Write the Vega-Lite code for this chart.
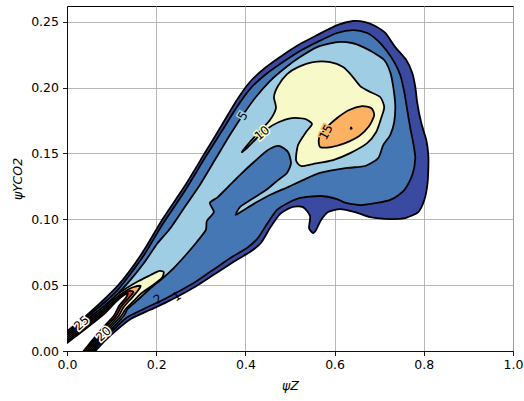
{
"$schema": "https://vega.github.io/schema/vega-lite/v6.json",
"width": 446, "height": 345,
"autosize": {"type": "none"},
"padding": {"left": 67, "top": 6, "right": 11, "bottom": 50},
"background": "white",
"config": {
 "font": "DejaVu Sans",
 "view": {"stroke": "#000000", "strokeWidth": 1},
 "axis": {"labelFont": "DejaVu Sans", "labelFontSize": 12.5, "labelColor": "#000", "tickColor": "#000", "tickSize": 4.5, "tickWidth": 0.9, "domainColor": "#000", "domainWidth": 0.9, "gridColor": "#b0b0b0", "gridWidth": 0.9, "titleFont": "DejaVu Sans", "titleFontWeight": "normal", "titleFontStyle": "italic", "titleFontSize": 12.5, "titleColor": "#000", "zindex": 1, "labelFlush": false, "labelBound": false},
 "line": {"stroke": "#000", "strokeWidth": 1.8, "interpolate": "cardinal-closed", "tension": 0.3, "strokeJoin": "round"}
},
"datasets": {
 "L1": [{"i":1,"x":0,"y":0.0152},{"i":2,"x":0.0281,"y":0.0224},{"i":3,"x":0.0551,"y":0.0304},{"i":4,"x":0.0843,"y":0.0395},{"i":5,"x":0.1135,"y":0.0494},{"i":6,"x":0.1404,"y":0.0607},{"i":7,"x":0.1742,"y":0.0774},{"i":8,"x":0.2146,"y":0.1002},{"i":9,"x":0.264,"y":0.1253},{"i":10,"x":0.309,"y":0.1503},{"i":11,"x":0.3472,"y":0.1716},{"i":12,"x":0.3809,"y":0.1906},{"i":13,"x":0.4101,"y":0.2043},{"i":14,"x":0.4438,"y":0.2149},{"i":15,"x":0.4843,"y":0.2248},{"i":16,"x":0.5225,"y":0.2331},{"i":17,"x":0.5607,"y":0.2399},{"i":18,"x":0.6056,"y":0.2475},{"i":19,"x":0.6416,"y":0.2506},{"i":20,"x":0.6685,"y":0.2498},{"i":21,"x":0.691,"y":0.2468},{"i":22,"x":0.7135,"y":0.2415},{"i":23,"x":0.736,"y":0.2308},{"i":24,"x":0.7607,"y":0.221},{"i":25,"x":0.7742,"y":0.2111},{"i":26,"x":0.7809,"y":0.2005},{"i":27,"x":0.7854,"y":0.1883},{"i":28,"x":0.7944,"y":0.1731},{"i":29,"x":0.8056,"y":0.1602},{"i":30,"x":0.8101,"y":0.1488},{"i":31,"x":0.8101,"y":0.1374},{"i":32,"x":0.8079,"y":0.126},{"i":33,"x":0.8011,"y":0.1147},{"i":34,"x":0.7876,"y":0.1055},{"i":35,"x":0.7584,"y":0.101},{"i":36,"x":0.7247,"y":0.1002},{"i":37,"x":0.6798,"y":0.1017},{"i":38,"x":0.6461,"y":0.1055},{"i":39,"x":0.6124,"y":0.1078},{"i":40,"x":0.5854,"y":0.1055},{"i":41,"x":0.5697,"y":0.0995},{"i":42,"x":0.5584,"y":0.0919},{"i":43,"x":0.5517,"y":0.0896},{"i":44,"x":0.5427,"y":0.0934},{"i":45,"x":0.5449,"y":0.1025},{"i":46,"x":0.5292,"y":0.1093},{"i":47,"x":0.5045,"y":0.1093},{"i":48,"x":0.4775,"y":0.104},{"i":49,"x":0.4551,"y":0.0934},{"i":50,"x":0.4348,"y":0.082},{"i":51,"x":0.4101,"y":0.0752},{"i":52,"x":0.3764,"y":0.0683},{"i":53,"x":0.3315,"y":0.0585},{"i":54,"x":0.2865,"y":0.0486},{"i":55,"x":0.2461,"y":0.041},{"i":56,"x":0.2191,"y":0.0364},{"i":57,"x":0.1854,"y":0.0311},{"i":58,"x":0.1427,"y":0.0243},{"i":59,"x":0.1112,"y":0.0159},{"i":60,"x":0.0843,"y":0.0076},{"i":61,"x":0.064,"y":0},{"i":62,"x":0.0373,"y":-0.01},{"i":63,"x":-0.03,"y":-0.02},{"i":64,"x":-0.02,"y":0.0101}],
 "L2": [{"i":1,"x":0,"y":0.0137},{"i":2,"x":0.0281,"y":0.0209},{"i":3,"x":0.0551,"y":0.0285},{"i":4,"x":0.0843,"y":0.0368},{"i":5,"x":0.1135,"y":0.0463},{"i":6,"x":0.1404,"y":0.0577},{"i":7,"x":0.1742,"y":0.0737},{"i":8,"x":0.2146,"y":0.0964},{"i":9,"x":0.264,"y":0.1215},{"i":10,"x":0.309,"y":0.1465},{"i":11,"x":0.3472,"y":0.167},{"i":12,"x":0.3809,"y":0.1853},{"i":13,"x":0.4101,"y":0.1989},{"i":14,"x":0.4438,"y":0.2096},{"i":15,"x":0.4843,"y":0.2194},{"i":16,"x":0.5225,"y":0.2278},{"i":17,"x":0.5607,"y":0.2346},{"i":18,"x":0.6056,"y":0.2415},{"i":19,"x":0.6416,"y":0.2437},{"i":20,"x":0.673,"y":0.2415},{"i":21,"x":0.6955,"y":0.2361},{"i":22,"x":0.7157,"y":0.2285},{"i":23,"x":0.7337,"y":0.2194},{"i":24,"x":0.7472,"y":0.2096},{"i":25,"x":0.7562,"y":0.1967},{"i":26,"x":0.7629,"y":0.183},{"i":27,"x":0.7697,"y":0.1693},{"i":28,"x":0.7764,"y":0.1579},{"i":29,"x":0.7809,"y":0.1465},{"i":30,"x":0.7742,"y":0.1336},{"i":31,"x":0.7562,"y":0.1222},{"i":32,"x":0.7247,"y":0.1147},{"i":33,"x":0.664,"y":0.1109},{"i":34,"x":0.6258,"y":0.1124},{"i":35,"x":0.6056,"y":0.1154},{"i":36,"x":0.5674,"y":0.1177},{"i":37,"x":0.5225,"y":0.1162},{"i":38,"x":0.4955,"y":0.1124},{"i":39,"x":0.4708,"y":0.1071},{"i":40,"x":0.4483,"y":0.0964},{"i":41,"x":0.4281,"y":0.0858},{"i":42,"x":0.4034,"y":0.0782},{"i":43,"x":0.3697,"y":0.0714},{"i":44,"x":0.327,"y":0.0615},{"i":45,"x":0.2843,"y":0.0516},{"i":46,"x":0.2438,"y":0.044},{"i":47,"x":0.2146,"y":0.0387},{"i":48,"x":0.1809,"y":0.0334},{"i":49,"x":0.136,"y":0.0258},{"i":50,"x":0.1067,"y":0.0171},{"i":51,"x":0.0798,"y":0.0084},{"i":52,"x":0.0596,"y":0},{"i":53,"x":0.0356,"y":-0.01},{"i":54,"x":-0.03,"y":-0.02},{"i":55,"x":-0.02,"y":0.0086}],
 "L3": [{"i":1,"x":0,"y":0.0121},{"i":2,"x":0.0281,"y":0.0194},{"i":3,"x":0.0551,"y":0.0266},{"i":4,"x":0.0843,"y":0.0345},{"i":5,"x":0.1135,"y":0.0433},{"i":6,"x":0.1404,"y":0.0532},{"i":7,"x":0.1742,"y":0.0676},{"i":8,"x":0.2034,"y":0.082},{"i":9,"x":0.2303,"y":0.0926},{"i":10,"x":0.2596,"y":0.1071},{"i":11,"x":0.2978,"y":0.126},{"i":12,"x":0.3315,"y":0.145},{"i":13,"x":0.3652,"y":0.164},{"i":14,"x":0.3944,"y":0.1792},{"i":15,"x":0.4236,"y":0.1929},{"i":16,"x":0.4551,"y":0.205},{"i":17,"x":0.4888,"y":0.2149},{"i":18,"x":0.5225,"y":0.2232},{"i":19,"x":0.5607,"y":0.2308},{"i":20,"x":0.6056,"y":0.2346},{"i":21,"x":0.6393,"y":0.2339},{"i":22,"x":0.664,"y":0.2308},{"i":23,"x":0.6888,"y":0.2263},{"i":24,"x":0.7112,"y":0.221},{"i":25,"x":0.7247,"y":0.2118},{"i":26,"x":0.7315,"y":0.2005},{"i":27,"x":0.736,"y":0.1868},{"i":28,"x":0.7337,"y":0.1739},{"i":29,"x":0.7247,"y":0.164},{"i":30,"x":0.709,"y":0.1564},{"i":31,"x":0.6978,"y":0.1465},{"i":32,"x":0.6685,"y":0.1405},{"i":33,"x":0.6281,"y":0.139},{"i":34,"x":0.5674,"y":0.1352},{"i":35,"x":0.5292,"y":0.1298},{"i":36,"x":0.4955,"y":0.1245},{"i":37,"x":0.4596,"y":0.1192},{"i":38,"x":0.4258,"y":0.1131},{"i":39,"x":0.3966,"y":0.1071},{"i":40,"x":0.3787,"y":0.1033},{"i":41,"x":0.3876,"y":0.1093},{"i":42,"x":0.4146,"y":0.1154},{"i":43,"x":0.4461,"y":0.1222},{"i":44,"x":0.473,"y":0.1298},{"i":45,"x":0.4933,"y":0.1352},{"i":46,"x":0.5022,"y":0.1427},{"i":47,"x":0.4955,"y":0.1511},{"i":48,"x":0.4753,"y":0.1557},{"i":49,"x":0.4506,"y":0.1526},{"i":50,"x":0.4191,"y":0.1435},{"i":51,"x":0.3876,"y":0.1336},{"i":52,"x":0.3607,"y":0.1245},{"i":53,"x":0.3382,"y":0.1169},{"i":54,"x":0.3202,"y":0.1124},{"i":55,"x":0.3292,"y":0.1055},{"i":56,"x":0.3135,"y":0.0987},{"i":57,"x":0.3112,"y":0.0919},{"i":58,"x":0.291,"y":0.0828},{"i":59,"x":0.2663,"y":0.0729},{"i":60,"x":0.2393,"y":0.063},{"i":61,"x":0.2124,"y":0.0547},{"i":62,"x":0.1854,"y":0.0471},{"i":63,"x":0.1584,"y":0.0387},{"i":64,"x":0.136,"y":0.0319},{"i":65,"x":0.127,"y":0.0266},{"i":66,"x":0.1022,"y":0.0175},{"i":67,"x":0.0753,"y":0.0084},{"i":68,"x":0.0551,"y":0},{"i":69,"x":0.0311,"y":-0.01},{"i":70,"x":-0.03,"y":-0.02},{"i":71,"x":-0.02,"y":0.0069}],
 "L4a": [{"i":1,"x":0.3921,"y":0.1511},{"i":2,"x":0.4101,"y":0.1587},{"i":3,"x":0.4326,"y":0.167},{"i":4,"x":0.4551,"y":0.1754},{"i":5,"x":0.4685,"y":0.1845},{"i":6,"x":0.464,"y":0.1929},{"i":7,"x":0.473,"y":0.2012},{"i":8,"x":0.4933,"y":0.2103},{"i":9,"x":0.518,"y":0.2156},{"i":10,"x":0.5517,"y":0.2194},{"i":11,"x":0.5899,"y":0.2194},{"i":12,"x":0.6191,"y":0.2156},{"i":13,"x":0.6393,"y":0.2088},{"i":14,"x":0.6573,"y":0.2012},{"i":15,"x":0.6798,"y":0.1967},{"i":16,"x":0.7022,"y":0.1929},{"i":17,"x":0.7112,"y":0.1853},{"i":18,"x":0.7045,"y":0.1769},{"i":19,"x":0.6933,"y":0.1663},{"i":20,"x":0.673,"y":0.1579},{"i":21,"x":0.6348,"y":0.1503},{"i":22,"x":0.5966,"y":0.145},{"i":23,"x":0.5517,"y":0.142},{"i":24,"x":0.5247,"y":0.1405},{"i":25,"x":0.5135,"y":0.145},{"i":26,"x":0.518,"y":0.1564},{"i":27,"x":0.536,"y":0.1663},{"i":28,"x":0.5494,"y":0.1724},{"i":29,"x":0.5337,"y":0.1762},{"i":30,"x":0.5045,"y":0.1769},{"i":31,"x":0.4753,"y":0.1739},{"i":32,"x":0.4483,"y":0.1686},{"i":33,"x":0.4236,"y":0.161},{"i":34,"x":0.4034,"y":0.1541}],
 "L4b": [{"i":1,"x":0,"y":0.0106},{"i":2,"x":0.0281,"y":0.0178},{"i":3,"x":0.0551,"y":0.0251},{"i":4,"x":0.0843,"y":0.033},{"i":5,"x":0.109,"y":0.0418},{"i":6,"x":0.1337,"y":0.0478},{"i":7,"x":0.1607,"y":0.0532},{"i":8,"x":0.1876,"y":0.0577},{"i":9,"x":0.2056,"y":0.0607},{"i":10,"x":0.2169,"y":0.06},{"i":11,"x":0.2124,"y":0.0554},{"i":12,"x":0.1899,"y":0.0494},{"i":13,"x":0.1674,"y":0.044},{"i":14,"x":0.1494,"y":0.038},{"i":15,"x":0.1315,"y":0.0319},{"i":16,"x":0.1213,"y":0.0266},{"i":17,"x":0.0966,"y":0.0175},{"i":18,"x":0.0708,"y":0.0084},{"i":19,"x":0.0506,"y":0},{"i":20,"x":0.0266,"y":-0.01},{"i":21,"x":-0.03,"y":-0.02},{"i":22,"x":-0.02,"y":0.0055}],
 "L5a": [{"i":1,"x":0.5674,"y":0.1549},{"i":2,"x":0.5652,"y":0.1617},{"i":3,"x":0.5809,"y":0.1693},{"i":4,"x":0.6056,"y":0.1769},{"i":5,"x":0.6326,"y":0.183},{"i":6,"x":0.6618,"y":0.186},{"i":7,"x":0.682,"y":0.1845},{"i":8,"x":0.6888,"y":0.1792},{"i":9,"x":0.6775,"y":0.1708},{"i":10,"x":0.6551,"y":0.1633},{"i":11,"x":0.6236,"y":0.1579},{"i":12,"x":0.5921,"y":0.1549}],
 "L5b": [{"i":1,"x":0,"y":0.0091},{"i":2,"x":0.0281,"y":0.0163},{"i":3,"x":0.0551,"y":0.0235},{"i":4,"x":0.0843,"y":0.0315},{"i":5,"x":0.109,"y":0.0402},{"i":6,"x":0.1315,"y":0.0456},{"i":7,"x":0.1494,"y":0.0486},{"i":8,"x":0.1652,"y":0.0494},{"i":9,"x":0.1584,"y":0.0456},{"i":10,"x":0.1449,"y":0.0402},{"i":11,"x":0.127,"y":0.0334},{"i":12,"x":0.1157,"y":0.0266},{"i":13,"x":0.091,"y":0.0175},{"i":14,"x":0.0663,"y":0.0084},{"i":15,"x":0.0461,"y":0},{"i":16,"x":0.0221,"y":-0.01},{"i":17,"x":-0.03,"y":-0.02},{"i":18,"x":-0.02,"y":0.004}],
 "L6a": [{"i":1,"x":0,"y":0.0076},{"i":2,"x":0.0281,"y":0.0148},{"i":3,"x":0.0551,"y":0.022},{"i":4,"x":0.0843,"y":0.03},{"i":5,"x":0.109,"y":0.0387},{"i":6,"x":0.127,"y":0.0433},{"i":7,"x":0.1404,"y":0.0456},{"i":8,"x":0.1494,"y":0.0448},{"i":9,"x":0.1404,"y":0.041},{"i":10,"x":0.1225,"y":0.0342},{"i":11,"x":0.1101,"y":0.0266},{"i":12,"x":0.0854,"y":0.0175},{"i":13,"x":0.0618,"y":0.0084},{"i":14,"x":0.0416,"y":0},{"i":15,"x":0.0176,"y":-0.01},{"i":16,"x":-0.03,"y":-0.02},{"i":17,"x":-0.02,"y":0.0025}],
 "L6b": [{"i":1,"x":0.636,"y":0.1688},{"i":2,"x":0.6382,"y":0.1688},{"i":3,"x":0.6371,"y":0.1698}],
 "L7": [{"i":1,"x":0,"y":0.0061},{"i":2,"x":0.0281,"y":0.0133},{"i":3,"x":0.0551,"y":0.0205},{"i":4,"x":0.0843,"y":0.0285},{"i":5,"x":0.109,"y":0.0372},{"i":6,"x":0.1247,"y":0.0418},{"i":7,"x":0.136,"y":0.0437},{"i":8,"x":0.1315,"y":0.0402},{"i":9,"x":0.118,"y":0.0349},{"i":10,"x":0.1045,"y":0.0266},{"i":11,"x":0.0798,"y":0.0175},{"i":12,"x":0.0573,"y":0.0084},{"i":13,"x":0.0371,"y":0},{"i":14,"x":0.0131,"y":-0.01},{"i":15,"x":-0.03,"y":-0.02},{"i":16,"x":-0.02,"y":0.001}],
 "lab": [{"t":"1","x":0.2461,"y":0.0415},{"t":"2","x":0.2034,"y":0.0395},{"t":"5","x":0.3944,"y":0.1785},{"t":"10","x":0.4371,"y":0.1655},{"t":"15","x":0.5809,"y":0.1663},{"t":"25","x":0.0326,"y":0.0213},{"t":"20","x":0.082,"y":0.0129}]
},
"encoding": {
 "x": {"field": "x", "type": "quantitative", "scale": {"domain": [0, 1], "nice": false, "zero": false}, "axis": {"values": [0, 0.2, 0.4, 0.6, 0.8, 1], "format": ".1f", "labelPadding": 3, "titlePadding": 8, "title": "ψZ"}},
 "y": {"field": "y", "type": "quantitative", "scale": {"domain": [0, 0.262], "nice": false, "zero": false}, "axis": {"values": [0, 0.05, 0.1, 0.15, 0.2, 0.25], "format": ".2f", "labelPadding": 4, "titlePadding": 6, "title": "ψYCO2"}}
},
"layer": [
 {"data": {"name": "L1"}, "mark": {"type": "line", "fill": "#3a4aa0", "clip": true}, "encoding": {"order": {"field": "i", "type": "quantitative"}}},
 {"data": {"name": "L2"}, "mark": {"type": "line", "fill": "#4677b5", "clip": true}, "encoding": {"order": {"field": "i", "type": "quantitative"}}},
 {"data": {"name": "L3"}, "mark": {"type": "line", "fill": "#9fcee4", "clip": true}, "encoding": {"order": {"field": "i", "type": "quantitative"}}},
 {"data": {"name": "L4a"}, "mark": {"type": "line", "fill": "#f7f9c9", "clip": true}, "encoding": {"order": {"field": "i", "type": "quantitative"}}},
 {"data": {"name": "L4b"}, "mark": {"type": "line", "fill": "#f7f9c9", "clip": true}, "encoding": {"order": {"field": "i", "type": "quantitative"}}},
 {"data": {"name": "L5a"}, "mark": {"type": "line", "fill": "#fcb163", "clip": true}, "encoding": {"order": {"field": "i", "type": "quantitative"}}},
 {"data": {"name": "L5b"}, "mark": {"type": "line", "fill": "#fcb163", "clip": true}, "encoding": {"order": {"field": "i", "type": "quantitative"}}},
 {"data": {"name": "L6a"}, "mark": {"type": "line", "fill": "#de3c2d", "clip": true}, "encoding": {"order": {"field": "i", "type": "quantitative"}}},
 {"data": {"name": "L6b"}, "mark": {"type": "line", "fill": "#de3c2d", "clip": true}, "encoding": {"order": {"field": "i", "type": "quantitative"}}},
 {"data": {"name": "L7"}, "mark": {"type": "line", "fill": "#ffffff", "clip": true}, "encoding": {"order": {"field": "i", "type": "quantitative"}}},
 {"data": {"name": "lab"}, "transform": [{"filter": "datum.t === '1'"}], "encoding": {"text": {"field": "t"}}, "mark": {"type": "text", "angle": -32, "fontSize": 12, "font": "DejaVu Sans", "fill": "#000"}},
 {"data": {"name": "lab"}, "transform": [{"filter": "datum.t === '2'"}], "encoding": {"text": {"field": "t"}}, "mark": {"type": "text", "angle": -35, "fontSize": 12, "font": "DejaVu Sans", "fill": "#000"}},
 {"data": {"name": "lab"}, "transform": [{"filter": "datum.t === '5'"}], "encoding": {"text": {"field": "t"}}, "layer": [
   {"mark": {"type": "text", "angle": -58, "fontSize": 12, "font": "DejaVu Sans", "fill": "#9fcee4", "stroke": "#9fcee4", "strokeWidth": 3}},
   {"mark": {"type": "text", "angle": -58, "fontSize": 12, "font": "DejaVu Sans", "fill": "#000"}}]},
 {"data": {"name": "lab"}, "transform": [{"filter": "datum.t === '10'"}], "encoding": {"text": {"field": "t"}}, "layer": [
   {"mark": {"type": "text", "angle": -40, "fontSize": 12, "font": "DejaVu Sans", "fill": "#f7f9c9", "stroke": "#f7f9c9", "strokeWidth": 3}},
   {"mark": {"type": "text", "angle": -40, "fontSize": 12, "font": "DejaVu Sans", "fill": "#000"}}]},
 {"data": {"name": "lab"}, "transform": [{"filter": "datum.t === '15'"}], "encoding": {"text": {"field": "t"}}, "layer": [
   {"mark": {"type": "text", "angle": -62, "fontSize": 12, "font": "DejaVu Sans", "fill": "#fcb163", "stroke": "#fcb163", "strokeWidth": 3}},
   {"mark": {"type": "text", "angle": -62, "fontSize": 12, "font": "DejaVu Sans", "fill": "#000"}}]},
 {"data": {"name": "lab"}, "transform": [{"filter": "datum.t === '25' || datum.t === '20'"}], "encoding": {"text": {"field": "t"}}, "layer": [
   {"mark": {"type": "text", "angle": -42, "fontSize": 12, "font": "DejaVu Sans", "fill": "#ffffff", "stroke": "#ffffff", "strokeWidth": 3}},
   {"mark": {"type": "text", "angle": -42, "fontSize": 12, "font": "DejaVu Sans", "fill": "#000"}}]}
]
}
